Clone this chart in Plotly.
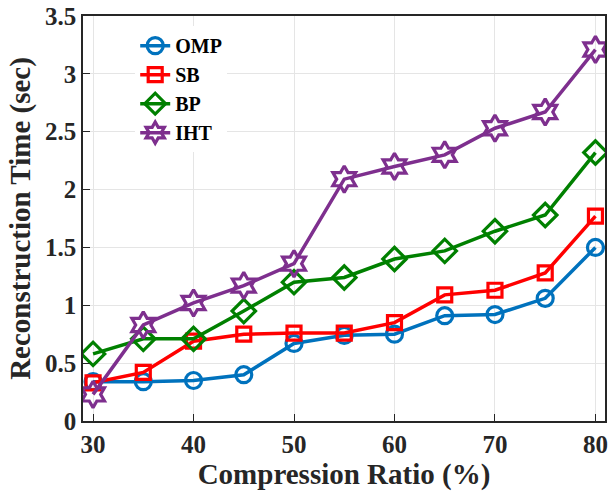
import plotly.graph_objects as go

ratio = [30, 35, 40, 45, 50, 55, 60, 65, 70, 75, 80]
omp = [0.34, 0.34, 0.35, 0.40, 0.67, 0.74, 0.75, 0.91, 0.92, 1.06, 1.50]
sb = [0.33, 0.42, 0.69, 0.75, 0.76, 0.76, 0.85, 1.09, 1.13, 1.28, 1.77]
bp = [0.58, 0.71, 0.71, 0.95, 1.20, 1.24, 1.40, 1.47, 1.64, 1.78, 2.32]
iht = [0.23, 0.83, 1.02, 1.17, 1.36, 2.09, 2.20, 2.30, 2.53, 2.67, 3.21]
x_ticks = [30, 40, 50, 60, 70, 80]
y_ticks = [0, 0.5, 1, 1.5, 2, 2.5, 3, 3.5]

series = [
    ("OMP", omp, "#0072BD", "circle-open", 16),
    ("SB", sb, "#FF0000", "square-open", 14),
    ("BP", bp, "#008000", "diamond-open", 18),
    ("IHT", iht, "#7E2F8E", "hexagram-open", 20),
]

font_family = "Liberation Serif"
fig = go.Figure()
for name, vals, color, sym, size in series:
    fig.add_trace(go.Scatter(
        x=ratio, y=vals, name="<b>" + name + "</b>", mode="lines+markers",
        line=dict(color=color, width=3.5),
        marker=dict(symbol=sym, size=size, color=color, line=dict(width=3.2, color=color)),
    ))

axis_common = dict(
    showline=True, linecolor="#262626", linewidth=1.5, mirror=True,
    showgrid=True, gridcolor="#E5E5E5", gridwidth=1,
    ticks="inside", ticklen=7, tickcolor="#262626", tickwidth=1.2,
    zeroline=False, automargin=False,
    tickfont=dict(family=font_family, size=25, color="#262626"),
)

fig.update_layout(
    width=608, height=497,
    margin=dict(l=83, r=3, t=16, b=76),
    plot_bgcolor="white", paper_bgcolor="white",
    font=dict(family=font_family, color="#262626"),
    xaxis=dict(range=[29.0, 80.95], tickvals=x_ticks,
               ticktext=["<b>%g</b>" % v for v in x_ticks],
               title=dict(text="<b>Compression Ratio (%)</b>", font=dict(family=font_family, size=29), standoff=4),
               **axis_common),
    yaxis=dict(range=[0, 3.5], tickvals=y_ticks,
               ticktext=["<b>%g</b>" % v for v in y_ticks],
               title=dict(text="<b>Reconstruction Time (sec)</b>", font=dict(family=font_family, size=29), standoff=6),
               **axis_common),
    legend=dict(x=0.1, y=0.975, xanchor="left", yanchor="top",
                bgcolor="white", borderwidth=0,
                font=dict(family=font_family, size=20, color="black"),
                tracegroupgap=0),
    showlegend=True,
)

fig.write_html("out.html", config={"displayModeBar": False},
               post_script="document.body.style.margin='0';")
